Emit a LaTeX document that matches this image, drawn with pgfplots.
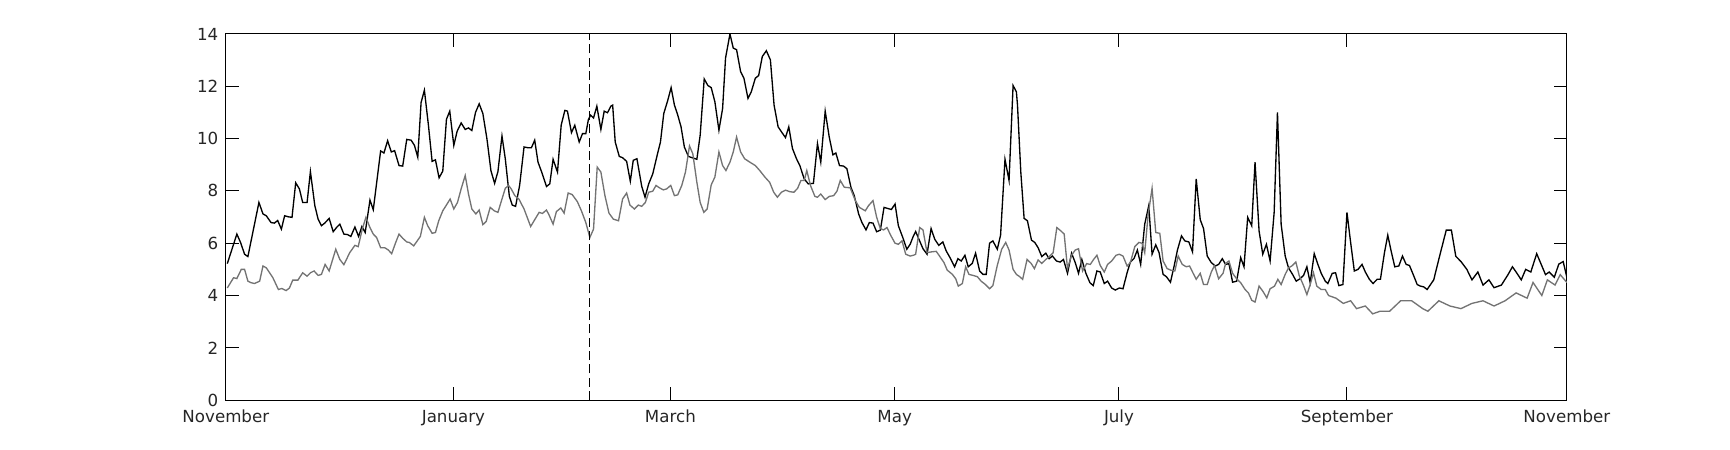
\documentclass[border=0pt]{standalone}
\usepackage{pgfplots}
\pgfplotsset{compat=1.18}
\usepackage{pgfplotstable}
\usepackage{fontspec}
\setmainfont{DejaVu Sans}

\definecolor{seriesgrey}{rgb}{0.45,0.45,0.45}

% day since 1 November, value
\pgfplotstableread{
day val
-0.5 5.22
2.1 6.35
3.1 6.03
4.2 5.58
5.1 5.49
8.1 7.56
9.2 7.12
10.1 7.05
11.4 6.79
12.3 6.77
13.2 6.87
14.2 6.54
15.1 7.05
16.1 7.01
17.1 6.99
18.1 8.31
19.1 8.08
20.0 7.56
21.2 7.56
22.1 8.74
23.3 7.44
24.2 6.92
25.1 6.67
26.0 6.77
27.2 6.95
28.3 6.44
29.2 6.60
30.1 6.73
31.2 6.35
32.2 6.33
33.1 6.26
34.2 6.62
35.2 6.26
36.1 6.64
37.0 6.41
38.3 7.65
39.2 7.28
41.2 9.53
42.1 9.45
43.1 9.92
44.1 9.49
45.0 9.54
46.2 8.97
47.2 8.95
48.3 9.97
49.5 9.94
50.4 9.74
51.3 9.29
52.2 11.38
53.1 11.85
54.2 10.51
55.2 9.13
56.1 9.19
57.1 8.50
58.1 8.76
59.1 10.74
60.0 11.05
61.1 9.74
62.0 10.28
63.1 10.60
64.2 10.35
65.1 10.41
66.0 10.31
67.0 11.00
68.0 11.33
69.0 10.96
70.1 10.00
71.2 8.77
72.2 8.29
73.1 8.74
74.2 10.10
75.1 9.23
76.2 7.80
77.0 7.46
77.9 7.41
79.0 8.21
80.2 9.68
81.3 9.65
82.2 9.65
83.1 9.94
84.0 9.10
85.0 8.72
86.3 8.17
87.2 8.27
88.1 9.21
89.3 8.72
90.3 10.51
91.3 11.08
92.0 11.05
93.1 10.23
94.0 10.51
95.2 9.87
96.1 10.19
97.0 10.19
97.7 10.73
98.3 10.90
99.1 10.79
100.0 11.24
101.1 10.35
102.0 11.05
102.9 10.99
103.8 11.24
104.3 11.28
105.0 9.87
106.1 9.32
107.0 9.27
108.1 9.13
109.1 8.37
109.9 9.17
110.9 9.23
112.2 8.18
113.1 7.76
114.1 8.27
115.2 8.65
116.4 9.36
117.3 9.87
118.2 10.96
119.3 11.47
120.2 11.95
121.1 11.28
122.0 10.90
122.9 10.45
123.8 9.68
124.9 9.32
126.1 9.26
127.2 9.21
128.1 10.13
129.2 12.28
130.2 12.03
131.1 11.95
132.1 11.41
133.2 10.32
134.2 11.15
135.0 13.08
136.2 14.00
137.1 13.46
138.0 13.40
139.1 12.56
140.0 12.31
141.1 11.54
142.0 11.79
143.1 12.31
144.0 12.41
145.0 13.14
146.1 13.36
147.2 13.01
148.2 11.28
149.3 10.45
150.2 10.26
151.3 10.04
152.2 10.45
153.2 9.62
154.3 9.23
155.2 8.97
156.4 8.46
157.5 8.27
158.9 8.29
160.0 9.81
160.9 9.10
162.1 11.05
163.2 10.06
164.2 9.38
165.0 9.45
166.0 8.97
167.1 8.95
168.0 8.85
169.1 8.14
170.0 7.82
171.2 7.12
172.1 6.79
173.2 6.51
174.1 6.79
175.1 6.77
176.1 6.44
177.1 6.50
178.1 7.37
179.1 7.33
180.1 7.29
181.1 7.50
182.0 6.67
183.2 6.22
184.3 5.77
185.2 5.96
186.1 6.28
186.7 6.45
187.6 6.15
188.7 5.79
189.8 5.58
190.9 6.56
191.9 6.15
193.0 5.92
194.1 6.05
195.0 5.71
196.2 5.41
197.3 5.10
198.2 5.41
199.1 5.32
200.1 5.54
201.0 5.10
202.1 5.23
203.0 5.62
204.1 4.94
205.0 4.81
205.9 4.81
206.8 6.00
207.7 6.09
208.9 5.77
209.8 6.31
211.0 9.21
212.1 8.40
213.2 12.03
214.1 11.79
214.4 11.28
215.3 8.72
216.2 6.95
217.1 6.86
218.2 6.12
219.1 6.03
220.0 5.83
221.0 5.49
222.1 5.62
223.0 5.41
223.9 5.51
225.0 5.32
226.0 5.28
226.9 5.38
228.0 4.85
229.1 5.62
230.1 5.26
231.0 4.85
231.9 5.38
233.0 4.85
234.1 4.49
235.0 4.38
236.0 4.94
236.9 4.90
238.0 4.46
238.9 4.55
240.0 4.29
241.0 4.21
242.1 4.29
243.1 4.26
244.2 4.87
245.1 5.28
246.1 5.42
247.0 5.74
247.9 5.19
249.0 6.73
250.1 7.44
251.0 5.58
252.0 5.94
252.9 5.64
254.0 4.81
254.9 4.72
256.0 4.51
257.0 5.13
257.9 5.74
259.0 6.28
259.9 6.09
261.0 6.05
262.0 5.67
263.0 8.46
264.1 6.90
265.0 6.56
266.0 5.51
267.1 5.26
268.2 5.13
269.1 5.19
270.1 5.41
271.0 5.19
271.9 5.22
272.9 4.51
274.0 4.55
275.1 5.45
276.0 5.10
277.0 6.99
278.1 6.67
279.0 9.10
280.1 6.47
281.1 5.58
282.1 5.96
283.1 5.32
284.2 7.18
285.1 11.00
286.1 6.73
287.2 5.51
288.1 5.06
289.2 4.81
290.2 4.55
291.2 4.64
292.2 4.77
293.1 5.10
294.0 4.49
295.1 5.60
296.1 5.19
297.0 4.85
298.1 4.55
298.8 4.46
300.0 4.85
300.9 4.87
301.8 4.38
302.9 4.42
304.0 7.18
305.0 6.03
306.0 4.94
307.0 5.00
308.1 5.19
309.0 4.90
310.1 4.62
311.1 4.46
312.2 4.62
313.1 4.62
314.2 5.64
315.1 6.31
316.0 5.71
317.0 5.10
318.1 5.13
319.1 5.51
320.1 5.19
321.0 5.15
322.0 4.81
323.1 4.42
324.0 4.36
324.9 4.33
325.8 4.23
327.6 4.60
329.0 5.40
331.0 6.50
332.4 6.50
333.6 5.50
335.0 5.30
336.6 5.00
338.0 4.60
339.6 4.90
341.0 4.40
342.6 4.60
344.0 4.30
346.0 4.40
347.8 4.80
349.0 5.10
350.0 4.90
351.4 4.60
352.6 5.00
354.0 4.90
355.6 5.60
356.8 5.20
358.0 4.80
359.0 4.90
360.4 4.70
361.6 5.20
362.8 5.30
363.8 4.70
}\blackseries

\pgfplotstableread{
day val
-0.5 4.29
1.2 4.68
2.1 4.65
3.3 5.00
4.2 5.00
5.1 4.55
6.0 4.49
6.9 4.46
8.3 4.55
9.2 5.13
10.1 5.06
11.0 4.87
11.9 4.68
13.4 4.23
14.3 4.27
15.5 4.19
16.4 4.29
17.3 4.59
18.7 4.59
20.0 4.87
21.2 4.74
22.1 4.87
23.1 4.94
24.2 4.77
25.1 4.81
26.1 5.19
27.2 4.94
29.0 5.77
30.1 5.38
31.2 5.18
32.8 5.64
34.2 5.92
35.1 5.87
36.2 6.54
37.2 6.99
38.3 6.60
39.2 6.35
40.1 6.22
41.2 5.83
42.3 5.83
43.3 5.74
44.2 5.60
45.3 6.03
46.2 6.35
47.2 6.19
48.3 6.05
49.0 6.03
50.2 5.90
52.0 6.26
53.1 6.99
54.0 6.67
55.2 6.38
56.1 6.41
57.0 6.86
58.1 7.24
59.0 7.44
60.1 7.69
61.1 7.31
62.1 7.56
63.1 8.08
64.2 8.59
65.1 7.88
66.0 7.31
67.1 7.12
68.0 7.27
69.0 6.71
69.9 6.83
71.0 7.37
72.1 7.24
73.1 7.18
74.2 7.69
75.1 8.10
76.0 8.21
76.7 8.08
77.7 7.82
78.8 7.69
80.2 7.31
82.0 6.64
83.1 6.90
84.3 7.18
85.2 7.14
86.3 7.27
87.0 7.08
88.1 6.73
89.0 7.21
90.2 7.35
91.1 7.15
92.2 7.92
93.3 7.86
94.7 7.59
95.8 7.24
97.0 6.79
98.1 6.22
99.1 6.54
100.1 8.91
101.1 8.72
102.2 7.82
103.3 7.15
104.5 6.92
105.9 6.86
107.0 7.69
108.1 7.92
109.0 7.46
110.2 7.31
111.3 7.46
112.2 7.41
113.2 7.56
114.1 7.95
115.2 7.99
116.1 8.21
117.0 8.12
118.1 8.04
119.0 8.08
120.1 8.21
121.1 7.82
122.0 7.85
123.1 8.21
124.1 8.72
125.2 9.72
126.1 9.42
127.2 8.33
128.1 7.56
129.1 7.18
130.0 7.31
131.1 8.23
132.1 8.53
133.2 9.49
134.2 8.97
135.1 8.78
136.2 9.10
137.1 9.49
138.0 10.06
139.1 9.49
140.2 9.23
141.6 9.10
143.1 8.97
144.3 8.78
145.7 8.53
147.0 8.33
148.1 7.95
149.1 7.76
150.2 7.95
151.3 8.03
152.5 7.97
153.6 7.95
154.6 8.10
155.5 8.40
156.4 8.40
157.1 8.78
158.1 8.21
159.3 7.79
160.0 7.76
160.9 7.88
162.1 7.67
163.2 7.79
164.4 7.82
165.3 7.99
166.2 8.40
167.3 8.14
168.9 8.12
170.3 7.63
171.4 7.37
173.0 7.24
173.9 7.44
175.1 7.63
176.1 6.99
177.1 6.56
178.0 6.51
178.9 6.60
180.0 6.28
181.1 6.00
182.0 5.96
183.0 6.09
184.0 5.58
185.2 5.51
186.1 5.54
186.7 5.58
187.8 6.60
188.7 6.51
189.8 5.64
191.0 5.67
192.3 5.69
193.2 5.51
194.4 5.26
195.3 4.97
196.7 4.81
197.6 4.64
198.3 4.36
199.4 4.46
200.3 5.10
201.2 4.81
202.3 4.77
203.5 4.72
204.5 4.55
205.7 4.42
206.8 4.26
207.7 4.38
208.9 5.15
210.1 5.77
211.2 6.03
212.1 5.74
213.2 5.00
214.1 4.81
215.0 4.72
215.8 4.62
217.0 5.38
218.1 5.23
219.0 5.03
220.0 5.36
221.0 5.23
222.1 5.38
223.2 5.51
224.1 5.64
225.1 6.60
226.2 6.47
227.1 6.35
228.0 5.03
229.1 5.54
230.1 5.74
231.0 5.79
232.1 4.94
233.2 5.22
234.2 5.19
235.1 5.38
236.0 5.54
236.9 5.15
238.0 4.90
238.9 5.19
240.0 5.32
241.2 5.54
242.1 5.58
243.1 5.51
244.2 5.13
245.1 5.26
246.3 5.87
247.4 6.03
248.3 6.00
249.0 5.64
249.9 7.05
251.0 8.10
252.0 6.41
253.1 6.38
254.0 5.32
255.1 5.03
256.1 4.97
257.2 4.94
258.1 5.51
259.2 5.19
260.3 5.10
261.2 5.13
262.1 4.87
263.0 4.62
264.1 4.85
265.0 4.42
266.0 4.42
267.1 4.90
268.0 5.15
269.1 4.64
270.3 4.85
271.0 5.23
271.9 5.32
272.9 4.85
274.0 4.64
275.1 4.49
276.3 4.23
277.2 4.10
278.1 3.82
279.0 3.75
280.1 4.36
281.1 4.17
282.2 3.91
283.1 4.26
284.3 4.36
285.2 4.62
286.1 4.42
287.2 4.81
288.1 5.06
289.0 5.13
290.1 5.28
291.0 4.77
292.2 4.38
293.1 4.04
294.0 4.42
294.9 4.87
295.8 4.36
297.0 4.23
298.1 4.23
299.0 4.00
301.0 3.90
303.0 3.70
305.0 3.80
306.6 3.50
309.0 3.60
311.0 3.30
313.0 3.40
315.6 3.40
318.6 3.80
321.6 3.80
324.6 3.50
326.0 3.40
329.0 3.80
332.0 3.60
335.0 3.50
338.0 3.70
341.0 3.80
344.0 3.60
347.0 3.80
350.0 4.10
353.0 3.90
354.6 4.50
357.0 4.00
358.5 4.60
360.6 4.40
362.0 4.80
363.8 4.50
}\greyseries

\begin{document}
\begin{tikzpicture}
\begin{axis}[
    at={(0,0)}, anchor=south west,
    scale only axis,
    width=804.6pt, height=219.7pt,
    xmin=-0.9, xmax=363.8,
    ymin=0, ymax=14,
    xtick={-0.9,61,120,181,242,304,363.8},
    xticklabels={November,January,March,May,July,September,November},
    ytick={0,2,...,14},
    tick align=inside,
    xtick pos=both, ytick pos=both,
    major tick length=8pt,
    axis line style={line width=0.6pt},
    tick style={line width=0.6pt, black},
    tick label style={font=\fontsize{10}{12}\selectfont, text=black!85},
    /pgf/number format/assume math mode=true,
    xticklabel style={yshift=-2.3pt},
    yticklabel style={xshift=-1pt},
]
\addplot[black, line width=0.8pt] table[x=day, y=val] {\blackseries};
\addplot[seriesgrey, line width=0.8pt] table[x=day, y=val] {\greyseries};
\addplot[black, line width=0.6pt, dash pattern=on 5.5pt off 2.5pt] coordinates {(98,0) (98,14)};
\end{axis}
\path (-135.5pt,-29.9pt) rectangle (902.5pt,240.1pt);
\end{tikzpicture}
\end{document}
